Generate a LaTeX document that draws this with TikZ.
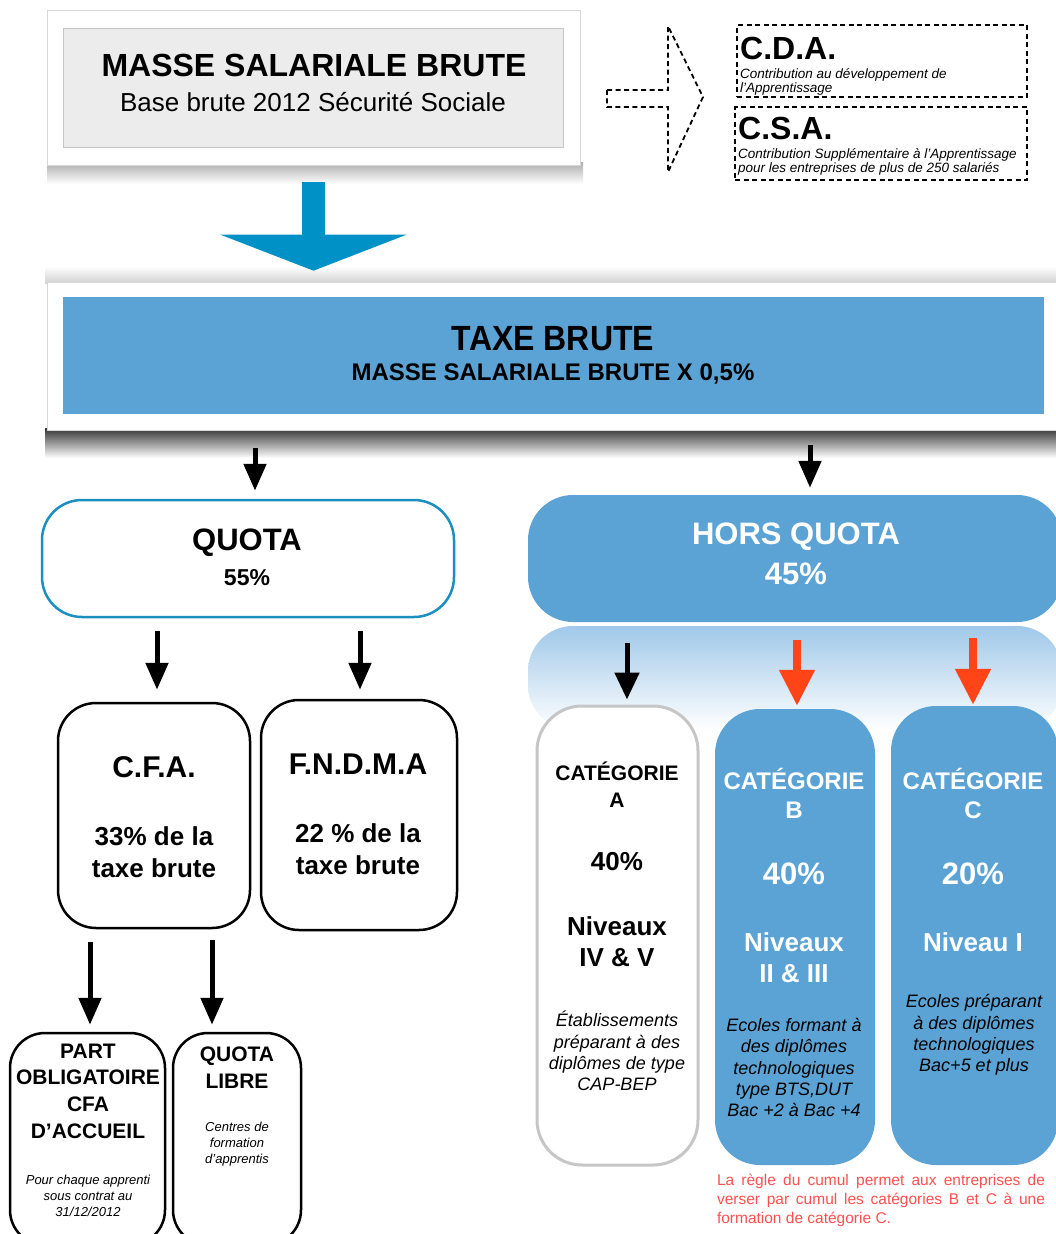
\documentclass[tikz,border=0pt]{standalone}
\usepackage{fontspec}
\setmainfont{Liberation Sans}
\usetikzlibrary{arrows.meta,shapes.geometric}
\definecolor{boxblue}{RGB}{91,163,213}
\definecolor{quotablue}{RGB}{26,143,192}
\definecolor{arrowblue}{RGB}{0,146,199}
\definecolor{arrowred}{RGB}{255,68,24}
\definecolor{notered}{RGB}{255,80,80}
\definecolor{reflblue}{RGB}{160,200,233}
\newcommand{\fsz}[2]{\fontsize{#1}{#2}\selectfont}
\begin{document}
\begin{tikzpicture}[x=1pt,y=-1pt,
  txt/.style={inner sep=0pt, align=center},
  frame/.style={draw=gray!30, line width=0.6pt, fill=white, inner sep=0pt},
  rbox/.style={draw=black, line width=2.5pt, rounded corners=38pt, fill=white, inner sep=0pt},
  dbox/.style={draw=black, line width=1.8pt, dash pattern=on 5pt off 3.5pt, inner sep=0pt},
  blk/.style={draw=black, line width=5pt, -{Triangle[width=22pt,length=27pt]}},
  redarr/.style={draw=arrowred, line width=8pt, -{Triangle[width=34pt,length=36pt]}},
  bluearr/.style={draw=arrowblue, line width=23pt, -{Triangle[width=185pt,length=36pt]}},
  dtitle/.style={inner sep=0pt, anchor=west, font=\fsz{32}{36}\bfseries},
  dsub/.style={inner sep=0pt, anchor=west, align=left, font=\fsz{13.5}{11.5}\itshape},
  ital/.style={txt, font=\fsz{18}{21.3}\itshape}
]
\useasboundingbox (0,0) rectangle (1056,1234);
\fill[white] (0,0) rectangle (1056,1234);

% ---------- top box ----------
\shade[top color=gray!65, bottom color=white] (47,162) rectangle (583,184);
\node[frame, minimum width=533pt, minimum height=155pt] (frameTop) at (313.5,87.5) {};
\node[draw=gray!45, line width=0.6pt, fill=gray!15, inner sep=0pt,
      minimum width=500pt, minimum height=119pt] (masse) at (313,87.5) {};
\node[txt, font=\fsz{32}{38}\bfseries] (masseT) at (314,65) {MASSE SALARIALE BRUTE};
\node[txt, font=\fsz{26}{30}] (masseS) at (313,102) {Base brute 2012 Sécurité Sociale};

% ---------- dashed arrow and CDA / CSA ----------
\node[dbox, minimum width=290pt, minimum height=72pt] (cda) at (882,61) {};
\node[dbox, minimum width=292pt, minimum height=73pt] (csa) at (881,143.5) {};
\draw[line width=1.8pt, dash pattern=on 5pt off 3.5pt]
  (607,90) -- (668,90) -- (668,26) -- (703,97) -- (668,172) -- (668,107) -- (607,107) -- cycle;
\node[dtitle] (cdaT) at (740,48) {C.D.A.};
\node[dsub] (cdaS) at (740,82) {Contribution au développement de\\l’Apprentissage};
\node[dtitle] (csaT) at (738,128) {C.S.A.};
\node[dsub] (csaS) at (738,162) {Contribution Supplémentaire à l’Apprentissage\\pour les entreprises de plus de 250 salariés};

% ---------- TAXE BRUTE ----------
\shade[top color=white, bottom color=gray!35] (45,266) rectangle (1060,283);
\shade[top color=black!80, bottom color=white] (45,428) rectangle (1060,458);
\node[frame, minimum width=1015pt, minimum height=148pt] (frameTax) at (554.5,356) {};
\node[fill=boxblue, inner sep=0pt, minimum width=981pt, minimum height=117pt] (taxe) at (553.5,355.5) {};
\node[txt, font=\fsz{35}{40}\bfseries] (taxeT) at (553,339) {\scalebox{0.915}[1]{TAXE BRUTE}};
\node[txt, font=\fsz{24}{28}\bfseries] (taxeS) at (553,374) {MASSE SALARIALE BRUTE X 0,5\%};

\draw[bluearr, shorten <=17pt, shorten >=11pt] (frameTop.south) -- (frameTop.south |- frameTax.north);

% ---------- QUOTA / HORS QUOTA ----------
\node[draw=quotablue, line width=2.5pt, rounded corners=40pt, fill=white, inner sep=0pt,
      minimum width=412pt, minimum height=117pt] (quota) at (248,558.5) {};
\node[txt, font=\fsz{31}{36}\bfseries] (quotaT) at (247,543) {QUOTA};
\node[txt, font=\fsz{23}{28}\bfseries] (quotaP) at (247,578) {55\%};

\shade[top color=reflblue, middle color=white, bottom color=white, rounded corners=45pt] (528,626) rectangle (1062,730);
\node[fill=boxblue, rounded corners=45pt, inner sep=0pt,
      minimum width=534pt, minimum height=127pt] (hors) at (795,558.5) {};
\node[txt, text=white, font=\fsz{31}{36}\bfseries] (horsT) at (796,537) {HORS QUOTA};
\node[txt, text=white, font=\fsz{31}{36}\bfseries] (horsP) at (796,574) {45\%};

\coordinate (tq) at (255,448);
\coordinate (th) at (810,445);
\draw[blk, shorten >=8pt] (tq) -- (tq |- quota.north);
\draw[blk, shorten >=7pt] (th) -- (th |- hors.north);

% ---------- C.F.A. / F.N.D.M.A ----------
\node[rbox, minimum width=192pt, minimum height=225pt] (cfa) at (154,815.5) {};
\node[rbox, minimum width=196pt, minimum height=230pt] (fndma) at (359,815) {};
\node[txt, font=\fsz{30}{34}\bfseries] (cfaT) at (154,767) {C.F.A.};
\node[txt, font=\fsz{26}{32}\bfseries] (cfaP) at (154,852) {33\% de la\\taxe brute};
\node[txt, font=\fsz{30}{34}\bfseries] (fndmaT) at (358,764) {F.N.D.M.A};
\node[txt, font=\fsz{26}{32}\bfseries] (fndmaP) at (358,849) {22 \% de la\\taxe brute};

\coordinate (qc) at (157,631);
\coordinate (qf) at (360,631);
\draw[blk, shorten >=12pt] (qc) -- (qc |- cfa.north);
\draw[blk, shorten >=9pt] (qf) -- (qf |- fndma.north);

% ---------- PART OBLIGATOIRE / QUOTA LIBRE ----------
\node[rbox, rounded corners=35pt, minimum width=155pt, minimum height=212pt] (part) at (87.5,1139) {};
\node[rbox, rounded corners=35pt, minimum width=128pt, minimum height=212pt] (libre) at (237,1139) {};
\node[txt, font=\fsz{21}{26.7}\bfseries] (partT) at (88,1091) {PART\\OBLIGATOIRE\\CFA\\D’ACCUEIL};
\node[txt, font=\fsz{13}{16}\itshape] (partS) at (88,1196) {Pour chaque apprenti\\sous contrat au\\31/12/2012};
\node[txt, font=\fsz{21}{27}\bfseries] (libreT) at (237,1067.5) {QUOTA\\LIBRE};
\node[txt, font=\fsz{13}{16}\itshape] (libreS) at (237,1144) {Centres de\\formation\\d’apprentis};

\coordinate (cp) at (90,942);
\coordinate (cl) at (212,940);
\draw[blk, shorten >=7pt] (cp) -- (cp |- part.north);
\draw[blk, shorten >=7pt] (cl) -- (cl |- libre.north);

% ---------- Categories ----------
\node[draw=gray!45, line width=3pt, rounded corners=45pt, fill=white, inner sep=0pt,
      minimum width=161pt, minimum height=459pt] (catA) at (617.5,935.5) {};
\node[fill=boxblue, rounded corners=45pt, inner sep=0pt,
      minimum width=160pt, minimum height=456pt] (catB) at (795,937) {};
\node[fill=boxblue, rounded corners=45pt, inner sep=0pt,
      minimum width=167pt, minimum height=459pt] (catC) at (974.5,935.5) {};

\node[txt, font=\fsz{21}{27}\bfseries] (catAT) at (617,785) {CATÉGORIE\\A};
\node[txt, font=\fsz{26}{30}\bfseries] (catAP) at (617,862) {40\%};
\node[txt, font=\fsz{26}{31}\bfseries] (catAN) at (617,941.5) {Niveaux\\IV \& V};
\node[ital] (catAD) at (617,1051) {Établissements\\préparant à des\\diplômes de type\\CAP-BEP};

\node[txt, text=white, font=\fsz{24}{29}\bfseries] (catBT) at (794,793.5) {CATÉGORIE\\B};
\node[txt, text=white, font=\fsz{31}{36}\bfseries] (catBP) at (794,874) {40\%};
\node[txt, text=white, font=\fsz{26}{31}\bfseries] (catBN) at (794,957.5) {Niveaux\\II \& III};
\node[ital] (catBD) at (794,1067.5) {Ecoles formant à\\des diplômes\\technologiques\\type BTS,DUT\\Bac +2 à Bac +4};

\node[txt, text=white, font=\fsz{24}{29}\bfseries] (catCT) at (973,793.5) {CATÉGORIE\\C};
\node[txt, text=white, font=\fsz{31}{36}\bfseries] (catCP) at (973,874) {20\%};
\node[txt, text=white, font=\fsz{26}{31}\bfseries] (catCN) at (973,942) {Niveau I};
\node[ital] (catCD) at (974,1035) {Ecoles préparant\\à des diplômes\\technologiques\\Bac+5 et plus};

\coordinate (ha) at (627,643);
\coordinate (hb) at (797,640);
\coordinate (hc) at (973,638);
\draw[blk, -{Triangle[width=24pt,length=27pt]}, shorten >=5pt] (ha) -- (ha |- catA.north);
\draw[redarr, shorten >=3pt] (hb) -- (hb |- catB.north);
\draw[redarr, shorten >=1pt] (hc) -- (hc |- catC.north);

\node[inner sep=0pt, align=left, text=notered, font=\fsz{15.5}{19}] (note) at (881,1200)
  {\makebox[328pt][s]{La règle du cumul permet aux entreprises de}\\
   \makebox[328pt][s]{verser par cumul les catégories B et C à une}\\
   \makebox[328pt][l]{formation de catégorie C.}};
\end{tikzpicture}
\end{document}
